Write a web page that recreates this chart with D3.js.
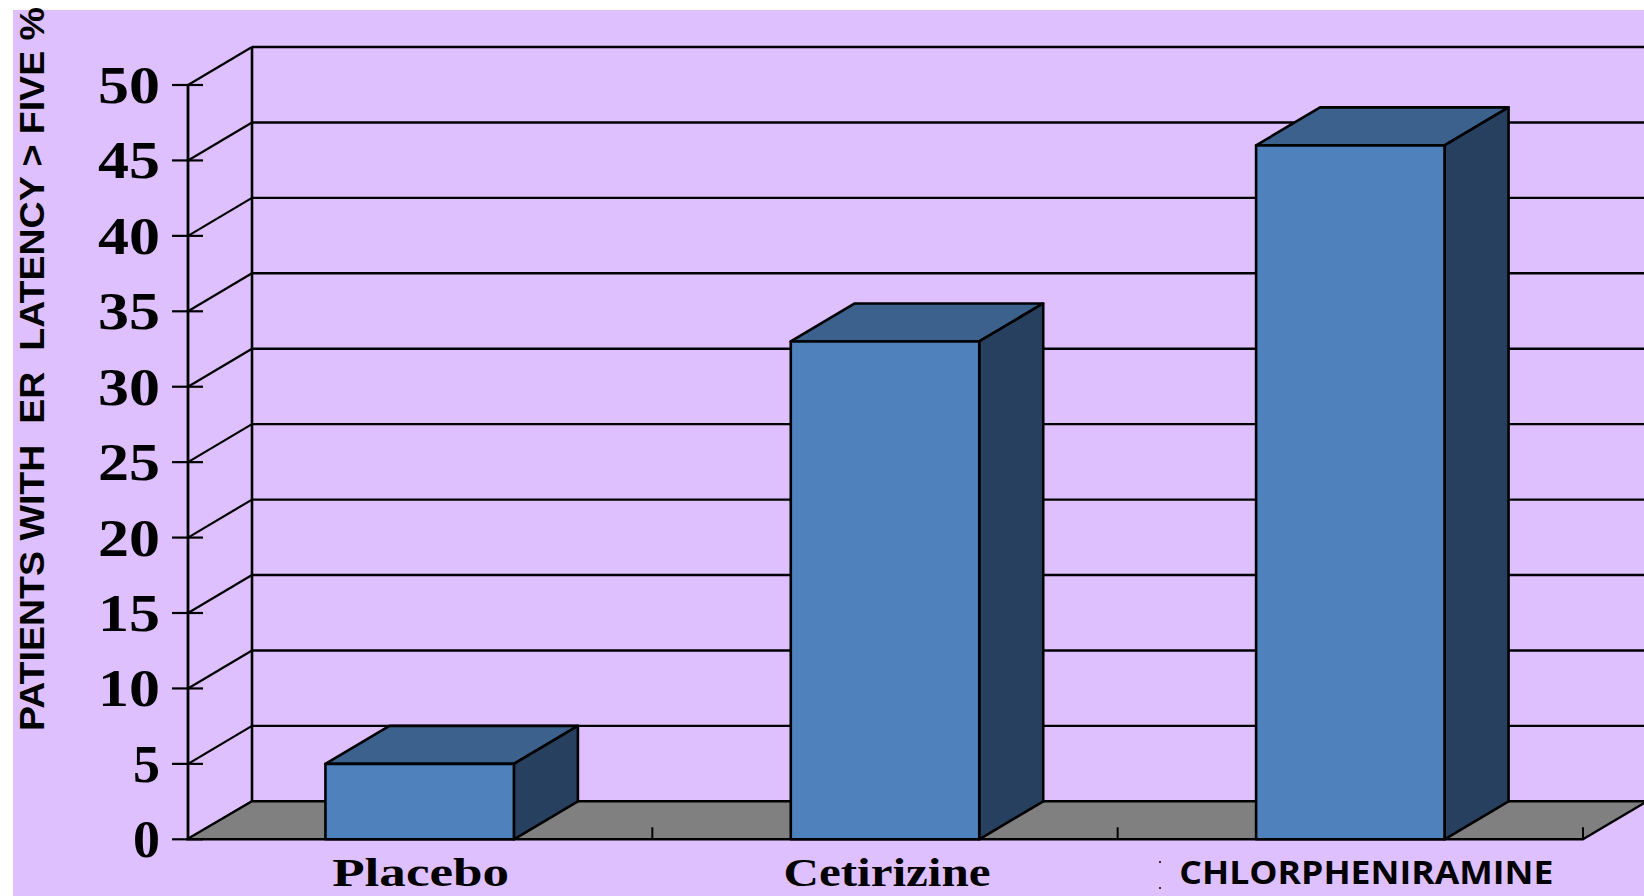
<!DOCTYPE html>
<html>
<head>
<meta charset="utf-8">
<script src="https://cdn.jsdelivr.net/npm/d3@7"></script>
<style>
  html, body { margin: 0; padding: 0; background: #ffffff; }
  svg { display: block; }
</style>
</head>
<body>
<svg id="chart" width="1644" height="896"></svg>
<script>
// ---- data ----
const categories = ["Placebo", "Cetirizine", "CHLORPHENIRAMINE"];
const values = [5, 33, 46];
const yTickValues = [0, 5, 10, 15, 20, 25, 30, 35, 40, 45, 50];
const yTickLabels = ["0", "5", "10", "15", "20", "25", "30", "35", "40", "45", "50"];
const yTitle = "PATIENTS WITH  ER  LATENCY > FIVE %";

// ---- layout ----
const W = 1644, H = 896;
const DX = 64, DY = -38;          // 3D depth offset
const frontLeft = 187, frontRight = 1583;
const yBottom = 839.3, yTop = 85;

const svg = d3.select("#chart");

svg.append("rect").attr("x", 13).attr("y", 10).attr("width", W - 13).attr("height", H - 10)
  .attr("fill", "#DFC0FE");

const x = d3.scaleBand().domain(categories).range([frontLeft, frontRight])
  .paddingInner(0.595).paddingOuter(0.2975);
const y = d3.scaleLinear().domain([0, 50]).range([yBottom, yTop]);

const g = svg.append("g");
const backLeft = frontLeft + DX + 1;

// back wall gridlines
g.selectAll("line.grid").data(yTickValues.filter(v => v > 0)).enter().append("line")
  .attr("x1", backLeft).attr("x2", W + 10)
  .attr("y1", d => y(d) + DY).attr("y2", d => y(d) + DY)
  .attr("stroke", "#000").attr("stroke-width", 2.4);

// side wall diagonals
g.selectAll("line.diag").data(yTickValues).enter().append("line")
  .attr("x1", frontLeft + 1).attr("x2", backLeft)
  .attr("y1", d => y(d)).attr("y2", d => y(d) + DY)
  .attr("stroke", "#000").attr("stroke-width", 2.2);

// back wall left vertical edge
g.append("line").attr("x1", backLeft).attr("x2", backLeft)
  .attr("y1", y(50) + DY).attr("y2", y(0) + DY)
  .attr("stroke", "#000").attr("stroke-width", 2.6);

// floor
g.append("polygon")
  .attr("points", [
    [frontLeft, y(0)], [frontRight, y(0)], [frontRight + DX, y(0) + DY], [backLeft, y(0) + DY]
  ].map(p => p.join(",")).join(" "))
  .attr("fill", "#808080").attr("stroke", "#000").attr("stroke-width", 2.4)
  .attr("stroke-linejoin", "round");

// floor ticks at category boundaries
const boundaries = [frontLeft + x.step(), frontLeft + 2 * x.step(), frontRight];
g.selectAll("line.ftick").data(boundaries).enter().append("line")
  .attr("x1", d => d).attr("x2", d => d)
  .attr("y1", y(0)).attr("y2", y(0) - 12)
  .attr("stroke", "#000").attr("stroke-width", 2);

// front y axis
g.append("line").attr("x1", frontLeft + 1).attr("x2", frontLeft + 1)
  .attr("y1", y(50)).attr("y2", y(0))
  .attr("stroke", "#000").attr("stroke-width", 2.8);
g.selectAll("line.ytick").data(yTickValues).enter().append("line")
  .attr("x1", 172).attr("x2", 203)
  .attr("y1", d => y(d)).attr("y2", d => y(d))
  .attr("stroke", "#000").attr("stroke-width", 2.2);

// tick labels
g.selectAll("text.ylab").data(yTickValues).enter().append("text")
  .attr("x", 160).attr("y", d => y(d) + 18)
  .attr("text-anchor", "end")
  .attr("font-family", "'Liberation Serif', 'Times New Roman', serif")
  .attr("font-weight", "bold").attr("font-size", 52)
  .attr("textLength", (d, i) => yTickLabels[i].length > 1 ? 62 : 27)
  .attr("lengthAdjust", "spacingAndGlyphs")
  .text((d, i) => yTickLabels[i]);

// bars
const bars = g.selectAll("g.bar").data(categories.map((c, i) => ({ c, v: values[i] })))
  .enter().append("g");
const stroke = { stroke: "#000", "stroke-width": 2.6, "stroke-linejoin": "round" };
function poly(sel, pts, fill) {
  const p = sel.append("polygon").attr("points", pts.map(q => q.join(",")).join(" ")).attr("fill", fill);
  Object.entries(stroke).forEach(([k, v]) => p.attr(k, v));
}
bars.each(function(d) {
  const s = d3.select(this);
  const x0 = x(d.c), x1 = x(d.c) + x.bandwidth();
  const yt = y(d.v), yb = y(0);
  poly(s, [[x0, yt], [x1, yt], [x1 + DX, yt + DY], [x0 + DX, yt + DY]], "#3B618C");
  poly(s, [[x1, yt], [x1, yb], [x1 + DX, yb + DY], [x1 + DX, yt + DY]], "#28405F");
  poly(s, [[x0, yt], [x1, yt], [x1, yb], [x0, yb]], "#4F81BD");
});

// category labels
const catStyle = [
  { font: "'Liberation Serif', 'Times New Roman', serif", size: 41, len: 177, dx: 1, base: 886 },
  { font: "'Liberation Serif', 'Times New Roman', serif", size: 41, len: 207, dx: 2, base: 886 },
  { font: "'Open Sans', Lato, sans-serif", size: 33, len: 374, dx: 16, base: 884 }
];
g.selectAll("text.cat").data(categories).enter().append("text")
  .attr("x", (d, i) => x(d) + x.bandwidth() / 2 + catStyle[i].dx)
  .attr("y", (d, i) => catStyle[i].base)
  .attr("text-anchor", "middle")
  .attr("font-family", (d, i) => catStyle[i].font)
  .attr("font-weight", "bold")
  .attr("font-size", (d, i) => catStyle[i].size)
  .attr("textLength", (d, i) => catStyle[i].len)
  .attr("lengthAdjust", "spacingAndGlyphs")
  .text(d => d);

// small stray marks before last label
g.append("rect").attr("x", 1159).attr("y", 861).attr("width", 2).attr("height", 2).attr("fill", "#333");
g.append("rect").attr("x", 1159).attr("y", 887).attr("width", 2).attr("height", 2).attr("fill", "#333");

// y title
svg.append("text")
  .attr("transform", "translate(44,369) rotate(-90)")
  .attr("text-anchor", "middle")
  .attr("font-family", "'Liberation Sans', Arial, sans-serif")
  .attr("font-weight", "bold").attr("font-size", 35)
  .attr("textLength", 724).attr("lengthAdjust", "spacingAndGlyphs")
  .style("white-space", "pre")
  .text(yTitle);
</script>
</body>
</html>
